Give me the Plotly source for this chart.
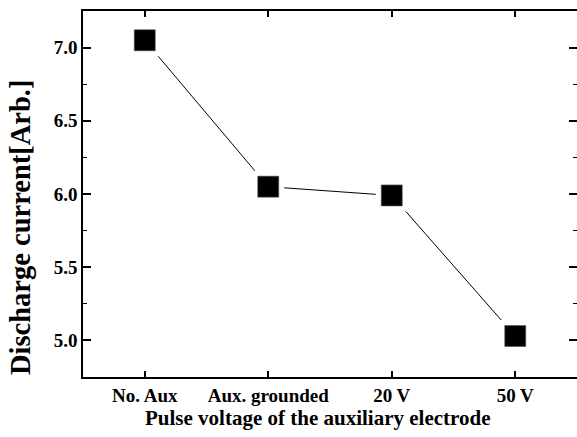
import plotly.graph_objects as go

categories = ["No. Aux", "Aux. grounded", "20 V", "50 V"]
current = [7.05, 6.05, 5.99, 5.03]
y_ticks = [5.0, 5.5, 6.0, 6.5, 7.0]
y_tick_labels = ["5.0", "5.5", "6.0", "6.5", "7.0"]
x_title = "Pulse voltage of the auxiliary electrode"
y_title = "Discharge current[Arb.]"

W, H = 577, 437
L, R, T, B = 83, 0, 11, 60
pw, ph = W - L - R, H - T - B

xs = list(range(len(categories)))
font = "Liberation Serif, Times New Roman, serif"

fig = go.Figure()
fig.add_trace(go.Scatter(x=xs, y=current, mode="lines",
                         line=dict(color="black", width=1), hoverinfo="skip"))
fig.add_trace(go.Scatter(x=xs, y=current, mode="markers",
                         marker=dict(symbol="square", size=32, color="white",
                                     line=dict(width=0)), hoverinfo="skip"))
fig.add_trace(go.Scatter(x=xs, y=current, mode="markers",
                         marker=dict(symbol="square", size=21, color="black",
                                     line=dict(color="#555", width=0.6))))

axis_common = dict(showline=True, linecolor="black", linewidth=1.5, mirror="allticks",
                   ticks="inside", tickcolor="black", showgrid=False, zeroline=False,
                   automargin=False,
                   tickfont=dict(family=font, size=19, color="black", weight="bold"))
fig.update_xaxes(range=[-0.5, 3.5], tickvals=xs, ticktext=categories,
                 ticklen=6, tickwidth=1.5, **axis_common)
fig.update_yaxes(range=[4.75, 7.25], tickvals=y_ticks, ticktext=y_tick_labels,
                 ticklen=8, tickwidth=1.5,
                 minor=dict(dtick=0.25, ticks="inside", ticklen=4, tickcolor="black", tickwidth=1),
                 **axis_common)

fig.add_annotation(text=x_title, xref="paper", yref="paper",
                   x=(317 - L) / pw, y=-(418 - (T + ph)) / ph,
                   showarrow=False, xanchor="center", yanchor="middle",
                   font=dict(family=font, size=21, color="black", weight="bold"))
fig.add_annotation(text=y_title, xref="paper", yref="paper",
                   x=(20 - L) / pw, y=(T + ph - 228) / ph, textangle=-90,
                   showarrow=False, xanchor="center", yanchor="middle",
                   font=dict(family=font, size=28.5, color="black", weight="bold"))

fig.update_layout(width=W, height=H, margin=dict(l=L, r=R, t=T, b=B),
                  plot_bgcolor="white", paper_bgcolor="white", showlegend=False)
fig.write_html("out.html", config={"displayModeBar": False},
               post_script="document.body.style.margin='0';")
